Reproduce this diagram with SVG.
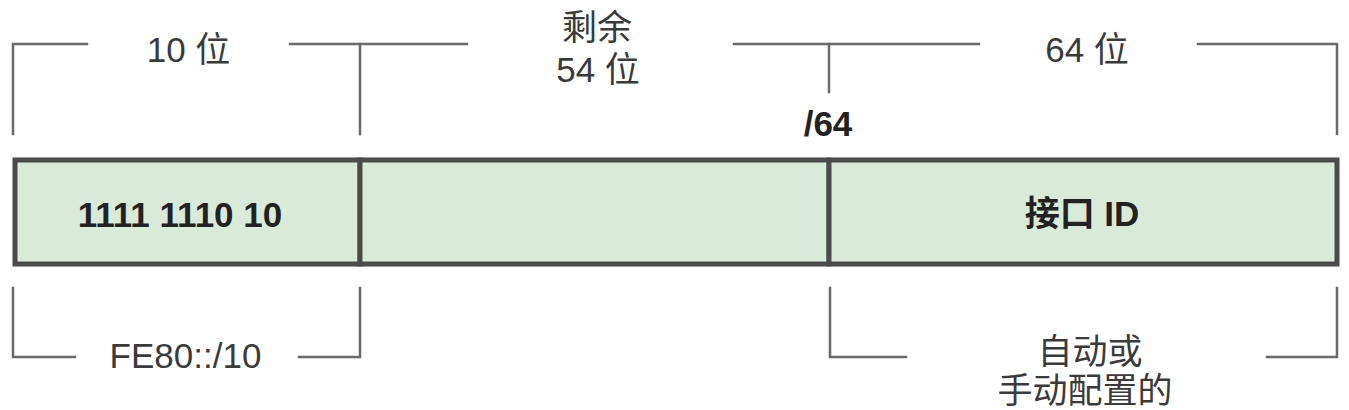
<svg xmlns="http://www.w3.org/2000/svg" width="1349" height="410" viewBox="0 0 1349 410">
<style>
.br{fill:none;stroke:#6a6a6a;stroke-width:2.5;stroke-linecap:square}
.t{font-family:"Liberation Sans","Noto Sans CJK SC",sans-serif;font-size:35px;fill:#3a3a3a;text-anchor:middle}
.b{font-family:"Liberation Sans","Noto Sans CJK SC",sans-serif;font-size:35px;font-weight:bold;fill:#222;text-anchor:middle}
.cell{fill:#d9ead9;stroke:#4b4b4b;stroke-width:5}
</style>
<rect width="1349" height="410" fill="#fff"/>
<g id="connectors">
<path class="br" d="M13,134 V44 H87"/>
<path class="br" d="M290,44 H467"/>
<path class="br" d="M360,44 V134"/>
<path class="br" d="M734,44 H979"/>
<path class="br" d="M829,44 V92"/>
<path class="br" d="M1198,44 H1337 V134"/>
<path class="br" d="M13,288 V357 H75"/>
<path class="br" d="M299,357 H360 V288"/>
<path class="br" d="M830,288 V357 H906"/>
<path class="br" d="M1267,357 H1337 V288"/>
</g>
<g id="cell-prefix">
<rect class="cell" x="15" y="160" width="345" height="104"/>
<text class="b" x="180" y="227">1111 1110 10</text>
</g>
<g id="cell-remaining">
<rect class="cell" x="360" y="160" width="469" height="104"/>
</g>
<g id="cell-interface">
<rect class="cell" x="829" y="160" width="508" height="104"/>
<text class="b" x="1082" y="226">接口 ID</text>
</g>
<g id="label-10bits"><text class="t" x="188.5" y="62">10 位</text></g>
<g id="label-54bits"><text class="t" x="597" y="40">剩余</text><text class="t" x="598" y="82">54 位</text></g>
<g id="label-64bits"><text class="t" x="1087" y="62">64 位</text></g>
<g id="label-slash64"><text class="b" x="828" y="136">/64</text></g>
<g id="label-fe80"><text class="t" x="185.5" y="368">FE80::/10</text></g>
<g id="label-auto"><text class="t" x="1090" y="364">自动或</text><text class="t" x="1085" y="403">手动配置的</text></g>
</svg>
